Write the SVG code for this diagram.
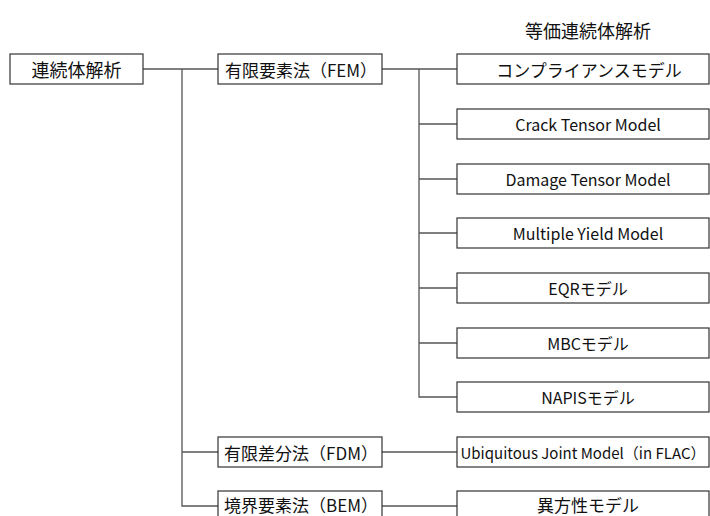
<svg xmlns="http://www.w3.org/2000/svg" width="710" height="516" viewBox="0 0 710 516">
<style>
.box{fill:#fff;stroke:#333;stroke-width:1.2}
.t{font-family:"Noto Sans CJK JP","Liberation Sans",sans-serif;font-size:17px;fill:#111;text-anchor:middle;dominant-baseline:central}
.s{font-size:16px}
.u{font-size:15px}
.l{font-size:18px}
.c{fill:none;stroke:#555;stroke-width:1.3}
</style>
<rect width="710" height="516" fill="#fff"/>
<text class="t l" x="588" y="30">等価連続体解析</text>
<g id="connectors">
<path class="c" d="M143 69H218"/>
<path class="c" d="M182 69V506H218"/>
<path class="c" d="M182 452H218"/>
<path class="c" d="M382 69H457"/>
<path class="c" d="M419 69V397H457"/>
<path class="c" d="M419 124H457M419 179H457M419 233H457M419 288H457M419 343H457"/>
<path class="c" d="M382 452H457"/>
<path class="c" d="M382 506H457"/>
</g>
<g id="n-continuum"><rect class="box" x="10" y="54" width="133" height="30"/><text class="t l" x="76.5" y="69">連続体解析</text></g>
<g id="n-fem"><rect class="box" x="218" y="54" width="164" height="30"/><text class="t" x="301" y="69">有限要素法（FEM）</text></g>
<g id="n-fdm"><rect class="box" x="218" y="437" width="164" height="30"/><text class="t" x="301" y="452">有限差分法（FDM）</text></g>
<g id="n-bem"><rect class="box" x="218" y="491" width="164" height="30"/><text class="t" x="301" y="504">境界要素法（BEM）</text></g>
<g id="n-compliance"><rect class="box" x="457" y="54" width="252" height="30"/><text class="t" x="589" y="69">コンプライアンスモデル</text></g>
<g id="n-crack"><rect class="box" x="457" y="109" width="252" height="30"/><text class="t s" x="588" y="124">Crack Tensor Model</text></g>
<g id="n-damage"><rect class="box" x="457" y="164" width="252" height="30"/><text class="t s" x="588" y="179">Damage Tensor Model</text></g>
<g id="n-multiple"><rect class="box" x="457" y="218" width="252" height="30"/><text class="t s" x="588" y="233">Multiple Yield Model</text></g>
<g id="n-eqr"><rect class="box" x="457" y="273" width="252" height="30"/><text class="t s" x="588" y="288">EQRモデル</text></g>
<g id="n-mbc"><rect class="box" x="457" y="328" width="252" height="30"/><text class="t s" x="588" y="343">MBCモデル</text></g>
<g id="n-napis"><rect class="box" x="457" y="382" width="252" height="30"/><text class="t s" x="588" y="397">NAPISモデル</text></g>
<g id="n-ubiquitous"><rect class="box" x="457" y="437" width="252" height="30"/><text class="t u" x="583" y="452">Ubiquitous Joint Model（in FLAC）</text></g>
<g id="n-aniso"><rect class="box" x="457" y="491" width="252" height="30"/><text class="t" x="588" y="504">異方性モデル</text></g>
</svg>
